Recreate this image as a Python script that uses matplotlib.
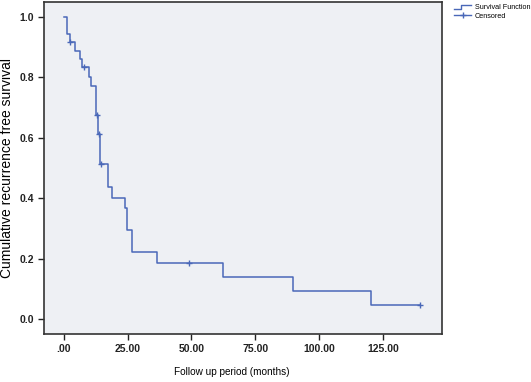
import matplotlib
matplotlib.use("Agg")
import matplotlib.pyplot as plt
from matplotlib.lines import Line2D
from matplotlib.legend_handler import HandlerBase
import numpy as np

# Kaplan-Meier step data
step_times = [0.0, 1.2, 2.3, 4.3, 6.3, 7.0, 9.8, 10.6, 12.7, 13.3, 14.0,
              17.2, 18.8, 23.9, 24.7, 26.6, 36.5, 62.3, 89.7, 120.3, 139.4]
step_surv = [1.0, 0.944, 0.917, 0.889, 0.861, 0.833, 0.803, 0.773, 0.675, 0.612, 0.512,
             0.437, 0.400, 0.366, 0.294, 0.222, 0.185, 0.139, 0.093, 0.046, 0.046]
cens_times = [2.5, 7.8, 13.0, 13.6, 14.5, 49.0, 139.4]
cens_surv = [0.917, 0.833, 0.675, 0.612, 0.512, 0.185, 0.046]

x_ticks = [0, 25, 50, 75, 100, 125]
x_labels = [".00", "25.00", "50.00", "75.00", "100.00", "125.00"]
y_ticks = [0.0, 0.2, 0.4, 0.6, 0.8, 1.0]
y_labels = ["0.0", "0.2", "0.4", "0.6", "0.8", "1.0"]

plt.rcParams['font.family'] = ['Liberation Sans Narrow', 'Liberation Sans', 'DejaVu Sans']

W, H = 531, 382
fig = plt.figure(figsize=(W / 100, H / 100), dpi=100)
fig.patch.set_facecolor('white')
ax = fig.add_axes([44 / W, 1 - 334 / H, (442 - 44) / W, (334 - 2) / H])
ax.set_facecolor('#eef0f4')

line_color = '#4a68b8'
ax.step(step_times, step_surv, where='post', color=line_color, lw=1.1)
ax.plot(cens_times, cens_surv, linestyle='none', marker='+', ms=5, mew=1.0, color=line_color)

ax.set_xlim(-7.8, 148.2)
ax.set_ylim(-0.05, 1.05)
ax.set_xticks(x_ticks)
ax.set_xticklabels(x_labels)
ax.set_yticks(y_ticks)
ax.set_yticklabels(y_labels)
ax.tick_params(direction='out', length=4, width=1, colors='#222222', labelsize=7.5, pad=3)
for lab in ax.get_xticklabels() + ax.get_yticklabels():
    lab.set_fontweight('bold')
for s in ax.spines.values():
    s.set_color('#333333')
    s.set_linewidth(1.2)

ax.set_xlabel("Follow up period (months)", fontsize=7.2)
ax.xaxis.set_label_coords((232 - 44) / (442 - 44), (334 - 367) / 332)
ax.set_ylabel("Cumulative recurrence free survival", fontsize=10)
ax.yaxis.set_label_coords((14 - 44) / (442 - 44), 0.5)


class StepHandler(HandlerBase):
    def create_artists(self, legend, orig_handle, xdescent, ydescent, width, height,
                       fontsize, trans):
        xs = np.array([0, width * 0.4, width * 0.4, width]) - xdescent
        ys = np.array([height * 0.1, height * 0.1, height * 0.85, height * 0.85]) - ydescent
        ln = Line2D(xs, ys, color=orig_handle.get_color(), lw=1.0, transform=trans)
        return [ln]


h_step = Line2D([0], [0], color=line_color, lw=1.0)
h_cens = Line2D([0], [0], color=line_color, lw=1.0, marker='+', ms=5)
fig.legend([h_step, h_cens], ["Survival Function", "Censored"], loc='upper left',
           bbox_to_anchor=(450 / W, 1.0), frameon=False, fontsize=5.2,
           handlelength=2.4, handletextpad=0.5, labelspacing=0.2, borderaxespad=0.15,
           handler_map={h_step: StepHandler()})

fig.savefig("out.png", dpi=100, facecolor='white')
